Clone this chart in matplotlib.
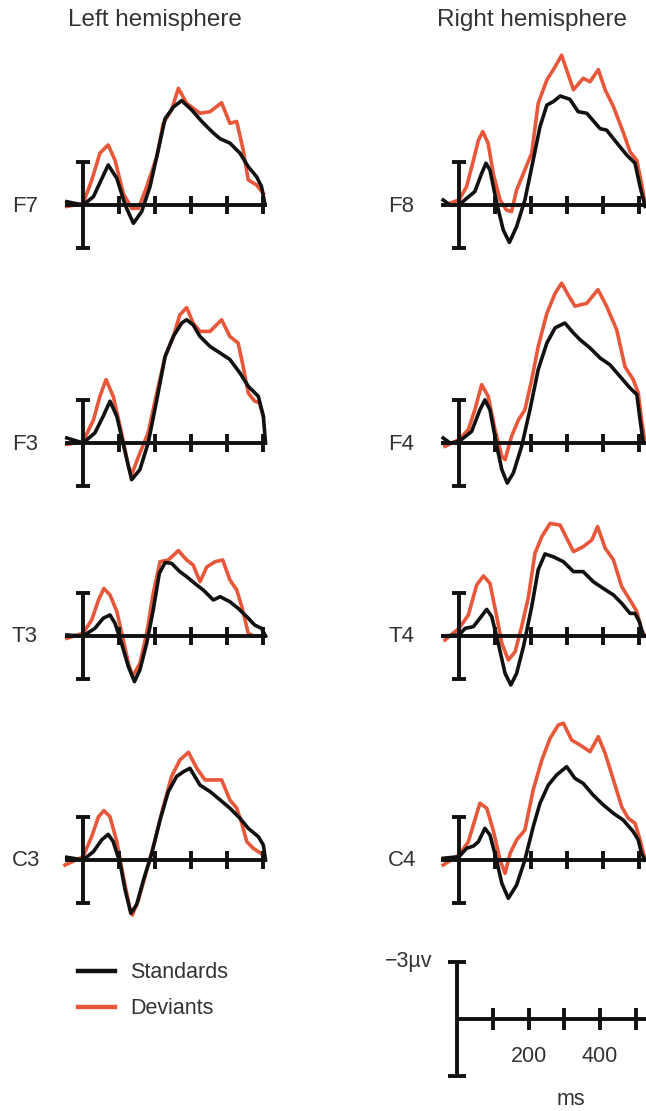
import numpy as np
import matplotlib
matplotlib.use('Agg')
import matplotlib.pyplot as plt
from matplotlib.lines import Line2D

plt.rcParams['font.family'] = ['Liberation Sans', 'DejaVu Sans']

# ---------------- data (ms, amplitude; negativity plotted upward) ----------------
f7_std_t = [-45, 0, 29, 70, 94, 117, 140, 163, 186, 209, 228, 251, 274, 302, 330, 362, 381, 408, 436, 459, 482, 496, 505]
f7_std_v = [0.23, 0, 0.58, 2.78, 1.85, 0, -1.27, -0.46, 1.27, 3.82, 6.0, 6.8, 7.25, 6.6, 5.8, 5.0, 4.6, 4.3, 3.6, 2.66, 1.97, 1.27, 0.1]
f7_dev_t = [-45, 0, 24, 47, 70, 89, 112, 135, 154, 177, 205, 223, 246, 265, 288, 325, 353, 385, 408, 427, 445, 459, 482, 501]
f7_dev_v = [-0.1, 0.1, 1.7, 3.6, 4.17, 3.1, 0.8, -0.23, -0.23, 1.27, 3.36, 5.67, 6.6, 8.1, 7.06, 6.37, 6.48, 7.1, 5.67, 5.8, 3.82, 1.74, 1.39, 0.8]

f8_std_t = [-44, -25, 0, 21, 44, 63, 75, 86, 105, 123, 140, 160, 183, 206, 225, 244, 262, 281, 308, 331, 355, 392, 410, 443, 466, 489, 503, 517]
f8_std_v = [0.35, 0, 0, 0.46, 0.93, 2.2, 2.9, 2.43, 0.1, -1.74, -2.6, -1.5, 0.35, 3.1, 5.44, 6.94, 7.18, 7.57, 7.34, 6.48, 6.37, 5.3, 5.2, 4.17, 3.47, 2.9, 1.27, -0.1]
f8_dev_t = [-39, 0, 21, 40, 54, 66, 81, 95, 114, 132, 146, 160, 179, 202, 220, 244, 267, 285, 318, 345, 364, 387, 406, 429, 457, 475, 494, 507, 517]
f8_dev_v = [0, 0.35, 1.27, 3.1, 4.5, 5.1, 4.28, 2.2, 0.35, -0.35, -0.46, 1.04, 2.2, 3.6, 7.06, 8.68, 9.6, 10.4, 8.0, 8.8, 8.56, 9.4, 8.0, 6.83, 5.0, 3.7, 3.1, 1.5, 0.1]

f3_std_t = [-45, 0, 33, 56, 75, 94, 112, 135, 158, 181, 205, 228, 251, 274, 288, 306, 325, 353, 381, 408, 436, 459, 487, 501, 507]
f3_std_v = [0.35, 0, 0.7, 1.85, 2.9, 1.85, -0.1, -2.55, -1.85, 0, 3.0, 6.0, 7.4, 8.33, 8.56, 8.2, 7.4, 6.7, 6.25, 5.8, 4.86, 3.94, 3.24, 1.85, 0]
f3_dev_t = [-45, 0, 29, 47, 64, 84, 107, 126, 135, 158, 181, 205, 228, 251, 269, 288, 306, 325, 353, 385, 408, 431, 445, 459, 477, 490, 501]
f3_dev_v = [-0.1, 0.1, 1.6, 3.24, 4.4, 3.24, 0.7, -1.6, -2.2, -0.7, 0.7, 3.47, 6.0, 7.4, 8.9, 9.4, 8.33, 7.75, 7.75, 8.56, 7.4, 6.94, 5.3, 3.47, 2.9, 2.8, 1.85]

f4_std_t = [-44, -25, 0, 35, 58, 72, 86, 105, 119, 134, 151, 174, 197, 220, 244, 267, 294, 318, 336, 364, 392, 419, 447, 475, 494, 503, 512]
f4_std_v = [0.35, 0, 0.1, 0.8, 2.3, 3.0, 2.3, -0.23, -1.85, -2.78, -2.08, -0.23, 2.3, 5.1, 6.94, 8.0, 8.33, 7.64, 7.18, 6.6, 5.9, 5.44, 4.63, 3.82, 3.36, 1.6, 0]
f4_dev_t = [-39, 0, 26, 44, 63, 81, 100, 119, 128, 146, 165, 183, 202, 220, 244, 267, 285, 303, 322, 355, 386, 410, 438, 461, 484, 498, 507, 517]
f4_dev_v = [-0.23, 0.23, 0.93, 2.3, 4.05, 3.24, 0.93, -0.93, -1.16, 0.46, 1.6, 2.3, 4.4, 6.7, 9.0, 10.4, 11.1, 10.3, 9.5, 9.7, 10.65, 9.5, 7.87, 5.3, 4.4, 3.47, 1.6, 0]

t3_std_t = [-45, 0, 33, 56, 75, 89, 107, 126, 143, 158, 177, 195, 212, 228, 246, 269, 288, 316, 334, 362, 381, 408, 431, 455, 477, 496, 507]
t3_std_v = [0.07, 0, 0.53, 1.23, 1.46, 0.88, -0.5, -2.13, -3.17, -2.36, -0.5, 1.8, 4.35, 5.1, 5.05, 4.47, 4.12, 3.54, 3.2, 2.5, 2.73, 2.38, 1.92, 1.34, 0.76, 0.53, 0]
t3_dev_t = [-45, 0, 24, 43, 58, 75, 94, 112, 126, 138, 158, 177, 195, 214, 237, 265, 288, 306, 325, 344, 367, 388, 408, 427, 441, 459, 473, 501]
t3_dev_v = [-0.16, 0.19, 1.1, 2.5, 3.3, 2.85, 1.7, -0.28, -1.9, -2.8, -1.9, 0.19, 2.96, 5.16, 5.28, 5.93, 5.28, 4.93, 3.77, 4.8, 5.16, 5.28, 3.9, 3.2, 2.04, 0.19, 0, 0]

t4_std_t = [-44, 0, 17, 40, 58, 77, 91, 109, 128, 144, 160, 179, 202, 220, 239, 262, 290, 318, 345, 373, 401, 429, 452, 475, 489, 501, 512]
t4_std_v = [0, 0.07, 0.53, 0.65, 1.23, 1.85, 1.34, -0.5, -2.6, -3.4, -2.6, -0.74, 2.04, 4.6, 5.7, 5.5, 5.16, 4.47, 4.47, 3.77, 3.3, 2.85, 2.27, 1.57, 1.57, 1.0, 0]
t4_dev_t = [-39, 0, 26, 49, 68, 86, 103, 119, 137, 156, 174, 193, 211, 230, 253, 281, 299, 318, 345, 369, 385, 406, 429, 452, 475, 494, 507, 517]
t4_dev_v = [-0.28, 0.53, 1.46, 3.54, 4.17, 3.66, 1.57, -0.5, -1.67, -1.09, 0.65, 2.73, 5.74, 6.9, 7.82, 7.7, 6.8, 5.86, 6.2, 6.67, 7.6, 6.1, 5.28, 3.43, 2.5, 1.7, 0.42, 0]

c3_std_t = [-45, 0, 29, 52, 70, 84, 103, 117, 133, 149, 168, 191, 214, 237, 260, 279, 297, 325, 353, 381, 408, 436, 459, 487, 501, 507]
c3_std_v = [0.19, 0, 0.58, 1.4, 1.78, 1.27, -0.23, -2.08, -3.7, -3.1, -1.39, 0.46, 2.78, 4.75, 5.8, 6.13, 6.37, 5.2, 4.75, 4.17, 3.6, 2.9, 2.2, 1.62, 1.04, 0]
c3_dev_t = [-50, 0, 24, 43, 58, 75, 94, 112, 131, 137, 154, 177, 200, 223, 246, 269, 293, 316, 339, 362, 385, 408, 427, 441, 455, 473, 501]
c3_dev_v = [-0.35, 0.23, 1.62, 3.0, 3.43, 3.0, 1.27, -1.16, -3.47, -3.82, -2.78, -0.7, 1.39, 3.7, 5.8, 6.94, 7.48, 6.37, 5.56, 5.56, 5.56, 4.17, 3.6, 2.55, 1.27, 0.81, 0.35]

c4_std_t = [-44, 0, 21, 40, 54, 72, 86, 103, 119, 137, 160, 183, 206, 225, 248, 271, 299, 322, 345, 373, 401, 429, 456, 484, 498, 507, 517]
c4_std_v = [0.12, 0.23, 0.81, 0.97, 1.27, 2.2, 1.74, 0.12, -1.62, -2.66, -1.74, 0, 2.3, 3.94, 5.2, 5.9, 6.48, 5.67, 5.32, 4.5, 3.82, 3.24, 2.78, 1.97, 1.39, 0.46, 0]
c4_dev_t = [-44, 0, 26, 44, 58, 77, 95, 114, 128, 142, 160, 183, 206, 230, 253, 276, 290, 313, 336, 364, 387, 406, 429, 452, 470, 489, 503, 517]
c4_dev_v = [-0.35, 0.35, 1.27, 2.78, 3.94, 3.6, 2.08, 0, -0.93, 0.46, 1.39, 2.08, 4.86, 6.94, 8.45, 9.38, 9.5, 8.33, 7.99, 7.52, 8.56, 7.41, 5.56, 3.7, 2.9, 2.55, 1.39, 0]

channels = ['F7', 'F8', 'F3', 'F4', 'T3', 'T4', 'C3', 'C4']
titles = ['Left hemisphere', 'Right hemisphere']
legend_labels = ['Standards', 'Deviants']
x_ticks = [100, 200, 300, 400, 500]
scale_tick_labels = ['200', '400']
scale_label = '\u22123\u00b5v'
unit_label = 'ms'
bar_uv = 3

series = {
    'F7': (f7_std_t, f7_std_v, f7_dev_t, f7_dev_v),
    'F8': (f8_std_t, f8_std_v, f8_dev_t, f8_dev_v),
    'F3': (f3_std_t, f3_std_v, f3_dev_t, f3_dev_v),
    'F4': (f4_std_t, f4_std_v, f4_dev_t, f4_dev_v),
    'T3': (t3_std_t, t3_std_v, t3_dev_t, t3_dev_v),
    'T4': (t4_std_t, t4_std_v, t4_dev_t, t4_dev_v),
    'C3': (c3_std_t, c3_std_v, c3_dev_t, c3_dev_v),
    'C4': (c4_std_t, c4_std_v, c4_dev_t, c4_dev_v),
}

# ---------------- layout / style ----------------
W, H = 646, 1111
fig = plt.figure(figsize=(W / 100, H / 100), dpi=100)

BLACK = '#111111'
RED = '#E8573A'
TXT = '#333333'
LW = 2.6
AX_LW = 2.8
PX_MS = 0.36
PX_UV = 14.4

col_axis_x = [83, 459]
col_label_x = [12, 388]
col_line_end = [510, 560]
row_zero_y = [205, 443, 636, 860]


def make_axes(axis_x, zero_y, px_ms, px_uv, left=80, right=220, up=180, down=75):
    lp, rp, tp, bp = axis_x - left, axis_x + right, zero_y - up, zero_y + down
    ax = fig.add_axes([lp / W, 1 - bp / H, (rp - lp) / W, (bp - tp) / H])
    ax.set_xlim((lp - axis_x) / px_ms, (rp - axis_x) / px_ms)
    ax.set_ylim(-(bp - zero_y) / px_uv, (zero_y - tp) / px_uv)
    ax.axis('off')
    return ax


for i, ch in enumerate(channels):
    col = i % 2
    row = i // 2
    ax = make_axes(col_axis_x[col], row_zero_y[row], PX_MS, PX_UV)
    st, sv, dt, dv = series[ch]
    ax.plot(dt, dv, color=RED, lw=LW, solid_joinstyle='round', zorder=2, clip_on=False)
    ax.plot(st, sv, color=BLACK, lw=LW, solid_joinstyle='round', zorder=3, clip_on=False)
    # baseline & ticks
    ax.plot([-50, col_line_end[col]], [0, 0], color=BLACK, lw=AX_LW, zorder=4, solid_capstyle='butt')
    ax.vlines(x_ticks, -0.6, 0.6, color=BLACK, lw=AX_LW, zorder=4)
    # amplitude bar
    ax.vlines(0, -bar_uv, bar_uv, color=BLACK, lw=AX_LW, zorder=4)
    ax.hlines([-bar_uv, bar_uv], -20, 20, color=BLACK, lw=AX_LW, zorder=4)
    fig.text(col_label_x[col] / W, 1 - (row_zero_y[row] + 1) / H, ch,
             ha='left', va='center', fontsize=16, color=TXT)

# titles
fig.text(155 / W, 1 - 20 / H, titles[0], ha='center', va='center', fontsize=17.5, color=TXT)
fig.text(532 / W, 1 - 20 / H, titles[1], ha='center', va='center', fontsize=17.5, color=TXT)

# legend
for k, (lab, c) in enumerate(zip(legend_labels, [BLACK, RED])):
    y = 971 + 36 * k
    fig.add_artist(Line2D([78 / W, 115 / W], [1 - y / H, 1 - y / H], color=c, lw=3.2,
                          transform=fig.transFigure))
    fig.text(130 / W, 1 - (y + 1) / H, lab, ha='left', va='center', fontsize=15.5, color=TXT)

# scale bar
SC_PX_MS = 0.3575
SC_PX_UV = 19.0
sax = make_axes(457, 1019, SC_PX_MS, SC_PX_UV, left=90, right=220, up=80, down=92)
sax.plot([0, 560], [0, 0], color=BLACK, lw=AX_LW, solid_capstyle='butt')
sax.vlines(x_ticks, -0.58, 0.58, color=BLACK, lw=AX_LW)
sax.vlines(0, -bar_uv, bar_uv, color=BLACK, lw=AX_LW)
sax.hlines([-bar_uv, bar_uv], -25, 25, color=BLACK, lw=AX_LW)
sax.text(-68, bar_uv, scale_label, ha='right', va='center', fontsize=15.5, color=TXT)
for lab in scale_tick_labels:
    sax.text(float(lab), -2.0, lab, ha='center', va='center', fontsize=15.5, color=TXT)
sax.text(318, -4.26, unit_label, ha='center', va='center', fontsize=15.5, color=TXT)

fig.savefig('out.png', dpi=100, facecolor='white')
